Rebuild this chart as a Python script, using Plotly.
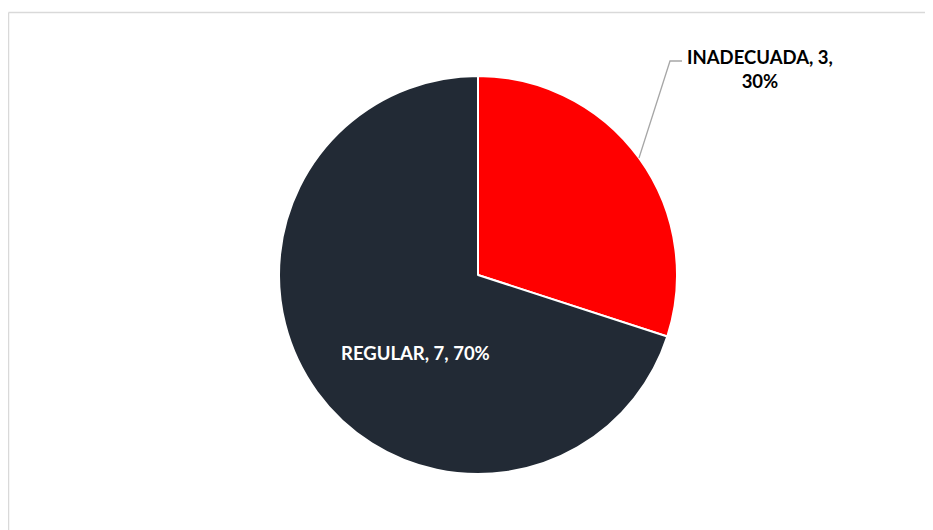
import math
import plotly.graph_objects as go

labels = ["INADECUADA", "REGULAR"]
values = [3, 7]
colors = ["#FF0000", "#222A35"]

W, H = 933, 530
OFF = 8  # page body margin in the browser
cx, cy, R = 478 - OFF, 275 - OFF, 199  # pixel centre / radius of pie

total = sum(values)
pcts = [round(100 * v / total) for v in values]

fig = go.Figure(go.Pie(
    labels=labels, values=values, sort=False, direction="clockwise", rotation=0,
    marker=dict(colors=colors, line=dict(color="white", width=2)),
    textinfo="none", hoverinfo="label+value+percent", showlegend=False,
    domain=dict(x=[(cx - R) / W, (cx + R) / W], y=[(H - cy - R) / H, (H - cy + R) / H]),
))

def px(x, y):
    return (x - OFF) / W, 1 - (y - OFF) / H

# leader line for first slice from its mid-angle on the edge
mid = 2 * math.pi * (values[0] / 2) / total
ex, ey = cx + R * math.sin(mid), cy - R * math.cos(mid)
p1 = (ex / W, 1 - ey / H)
p2 = px(670, 61)
p3 = px(682, 61)
tl = px(8.5, 12.5)

shapes = [
    dict(type="path", xref="paper", yref="paper",
         path=f"M {p1[0]} {p1[1]} L {p2[0]} {p2[1]} L {p3[0]} {p3[1]}",
         line=dict(color="#A6A6A6", width=1.3)),
    dict(type="line", xref="paper", yref="paper", x0=tl[0], x1=tl[0], y0=tl[1], y1=-0.05,
         line=dict(color="#D9D9D9", width=1.5)),
    dict(type="line", xref="paper", yref="paper", x0=tl[0], x1=1.05, y0=tl[1], y1=tl[1],
         line=dict(color="#D9D9D9", width=1.5)),
]

font = dict(family="Lato, 'Open Sans', sans-serif", size=18.5)
a1 = px(760, 69)
a2 = px(415, 353)
annotations = [
    dict(x=a1[0], y=a1[1], xref="paper", yref="paper", showarrow=False,
         xanchor="center", yanchor="middle",
         text=f"<b>{labels[0]}, {values[0]},<br>{pcts[0]}%</b>", align="center",
         font=dict(color="#000000", **font)),
    dict(x=a2[0], y=a2[1], xref="paper", yref="paper", showarrow=False,
         xanchor="center", yanchor="middle",
         text=f"<b>{labels[1]}, {values[1]}, {pcts[1]}%</b>",
         font=dict(color="#FFFFFF", **font)),
]

fig.update_layout(width=W, height=H, margin=dict(l=0, r=0, t=0, b=0),
                  paper_bgcolor="white", plot_bgcolor="white",
                  shapes=shapes, annotations=annotations)
fig.write_html("out.html")
